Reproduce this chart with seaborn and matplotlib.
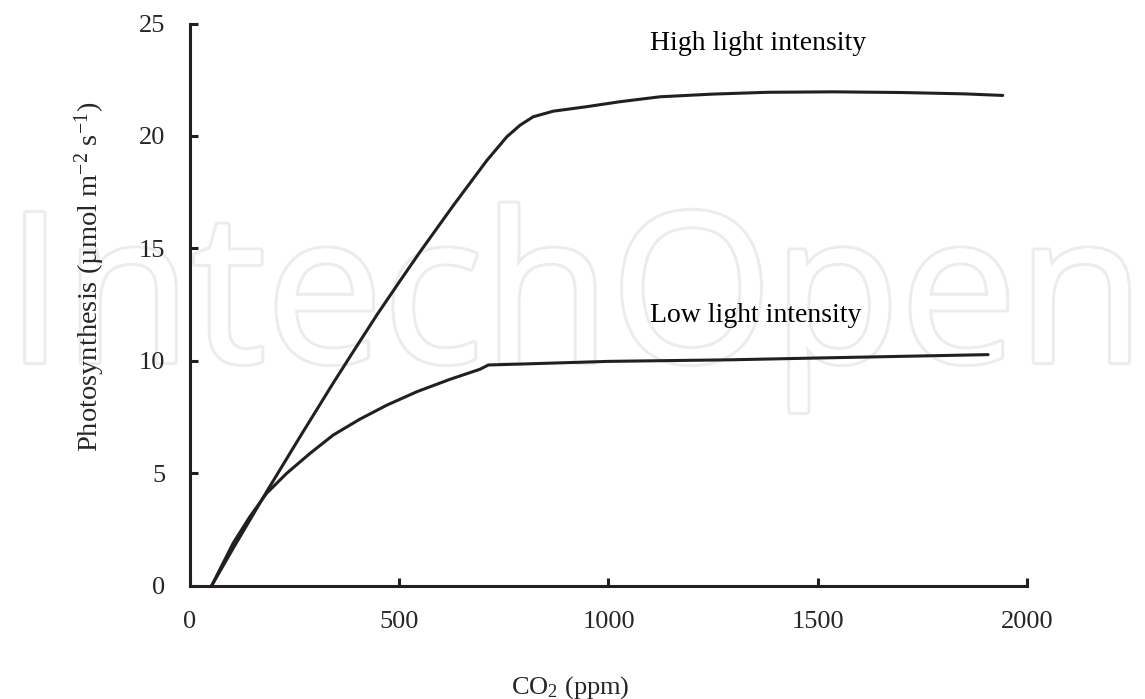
import seaborn as sns
import matplotlib.pyplot as plt
import matplotlib.patheffects as pe
import pandas as pd

### values
high_co2 = [52, 103, 183, 263, 342, 402, 447, 500, 550, 629, 709, 757, 789, 820, 868, 948, 1027, 1123, 1250, 1380, 1539, 1700, 1850, 1942]
high_ps = [0, 1.65, 4.17, 6.62, 9.0, 10.75, 12.05, 13.5, 14.85, 16.9, 18.9, 19.96, 20.48, 20.85, 21.1, 21.3, 21.52, 21.74, 21.86, 21.94, 21.96, 21.93, 21.87, 21.8]

low_co2 = [52, 103, 143, 183, 231, 287, 342, 406, 470, 542, 621, 693, 713, 789, 1000, 1292, 1500, 1907]
low_ps = [0, 1.88, 3.06, 4.10, 4.99, 5.88, 6.69, 7.40, 8.02, 8.62, 9.17, 9.62, 9.81, 9.85, 9.97, 10.04, 10.12, 10.27]

x_ticks = [0, 500, 1000, 1500, 2000]
y_ticks = [0, 5, 10, 15, 20, 25]

df = pd.concat([
    pd.DataFrame({"co2": high_co2, "ps": high_ps, "light": "High light intensity"}),
    pd.DataFrame({"co2": low_co2, "ps": low_ps, "light": "Low light intensity"}),
])

sns.set_style("ticks")
plt.rcParams['font.family'] = ['Liberation Serif', 'DejaVu Serif']
plt.rcParams['mathtext.fontset'] = 'custom'
plt.rcParams['mathtext.rm'] = 'Liberation Serif'
plt.rcParams['mathtext.it'] = 'Liberation Serif:italic'

ink = '#231f20'

fig = plt.figure(figsize=(11.45, 6.99), dpi=100)
ax = fig.add_axes([190/1145, 1-585.5/699, 837/1145, 562/699])
ax.patch.set_alpha(0)

# faint publisher watermark behind the chart
fig.text(0.005, 1-362/699, "IntechOpen", fontsize=150, family='Open Sans',
         color='white', zorder=-5,
         path_effects=[pe.withStroke(linewidth=4.5, foreground='#ececec'), pe.Normal()])

sns.lineplot(data=df, x='co2', y='ps', units='light', estimator=None, color=ink,
             linewidth=2.2, legend=False, ax=ax, clip_on=False)

ax.text(1100, 23.8, "High light intensity", fontsize=20, color='black')
ax.text(1100, 11.7, "Low light intensity", fontsize=20, color='black')

ax.set_xlim(0, 2000)
ax.set_ylim(0, 25)
ax.set_xticks(x_ticks)
ax.set_yticks(y_ticks)
ax.tick_params(direction='in', length=6, width=2.2, color=ink, labelsize=19, pad=18)
for s in ['top', 'right']:
    ax.spines[s].set_visible(False)
for s in ['left', 'bottom']:
    ax.spines[s].set_linewidth(2.2)
    ax.spines[s].set_color(ink)

ax.set_xlabel(r'CO$_2$ (ppm)', fontsize=19)
ax.set_ylabel(r'Photosynthesis (µmol m$^{-2}$ s$^{-1}$)', fontsize=20.5)
ax.xaxis.set_label_coords(0.454, -0.157)
ax.yaxis.set_label_coords(-0.099, 0.549)

plt.savefig('out.png', dpi=100)
